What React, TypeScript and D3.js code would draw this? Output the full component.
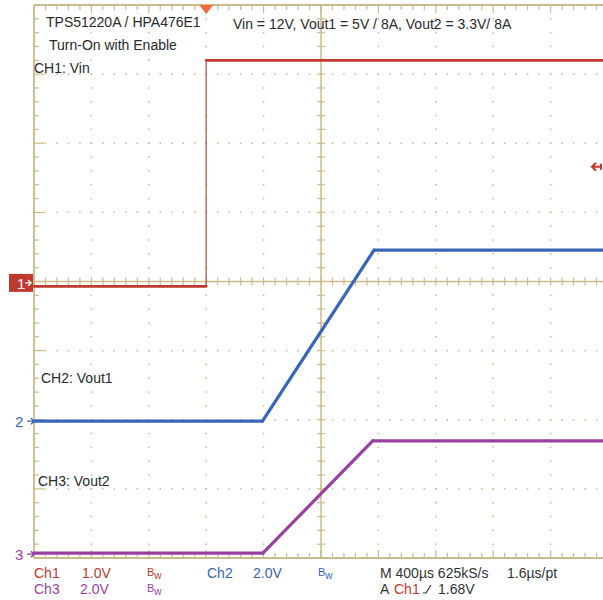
import React from 'react';
import * as d3 from 'd3';

// time in µs relative to the trigger, values in volts
const ch1Time = [-1200, 0, 0, 2800];
const ch1Volts = [-0.05, -0.05, 3.22, 3.22];
const ch2Time = [-1200, 392, 1170, 2800];
const ch2Volts = [0, 0, 4.95, 4.95];
const ch3Time = [-1200, 395, 1160, 2800];
const ch3Volts = [0, 0, 3.25, 3.25];

const channelNames = ['CH1: Vin', 'CH2: Vout1', 'CH3: Vout2'];
const voltsPerDiv = [1.0, 2.0, 2.0];
const offsetDiv = [-0.02, -2.02, -3.93];
const timePerDiv = 400;

const W = 603;
const H = 600;
const grid = '#c9bb8a';
const red = '#c0392e';
const blue = '#3765b9';
const purple = '#993f9f';
const font = "'Liberation Sans Narrow', 'Arial Narrow', 'Liberation Sans', sans-serif";

function App() {
  const left = 34, right = 608, top = 5, bottom = 558;
  const x = d3.scaleLinear().domain([-3 * timePerDiv, 7 * timePerDiv]).range([left, right]);
  const y = d3.scaleLinear().domain([-4, 4]).range([bottom, top]);
  const cx = x(2 * timePerDiv);
  const cy = y(0);
  const dx = (right - left) / 10;
  const dy = (bottom - top) / 8;

  const traces = [
    {t: ch1Time, v: ch1Volts, color: red, w: 2.8},
    {t: ch2Time, v: ch2Volts, color: blue, w: 3.2},
    {t: ch3Time, v: ch3Volts, color: purple, w: 3.2},
  ];

  const dots: JSX.Element[] = [];
  d3.range(1, 10).filter(i => i !== 5).forEach(i => {
    d3.range(0, 41).forEach(j => {
      dots.push(<rect key={`v${i}-${j}`} x={left + i * dx - 0.75} y={top + j * dy / 5 - 0.75} width={1.5} height={1.5} fill={grid}/>);
    });
  });
  d3.range(1, 8).filter(i => i !== 4).forEach(i => {
    d3.range(0, 51).forEach(j => {
      dots.push(<rect key={`h${i}-${j}`} x={left + j * dx / 5 - 0.75} y={top + i * dy - 0.75} width={1.5} height={1.5} fill={grid}/>);
    });
  });

  const ticks: JSX.Element[] = [];
  d3.range(0, 51).forEach(j => {
    const xx = left + j * dx / 5;
    const major = j % 5 === 0;
    ticks.push(<line key={`ct${j}`} x1={xx} x2={xx} y1={cy - 4} y2={cy + 4} stroke={grid} strokeWidth={1.2}/>);
    ticks.push(<line key={`tt${j}`} x1={xx} x2={xx} y1={top} y2={top + (major ? 8 : 5)} stroke={grid} strokeWidth={1.2}/>);
    ticks.push(<line key={`bt${j}`} x1={xx} x2={xx} y1={bottom} y2={bottom - (major ? 8 : 5)} stroke={grid} strokeWidth={1.2}/>);
  });
  d3.range(0, 41).forEach(j => {
    const yy = top + j * dy / 5;
    const major = j % 5 === 0;
    ticks.push(<line key={`cv${j}`} x1={cx - 4} x2={cx + 4} y1={yy} y2={yy} stroke={grid} strokeWidth={1.2}/>);
    ticks.push(<line key={`lv${j}`} x1={left} x2={left + (major ? 10 : 5)} y1={yy} y2={yy} stroke={grid} strokeWidth={1.2}/>);
  });

  const yv = (v: number, ch: number) => y(offsetDiv[ch] + v / voltsPerDiv[ch]);

  // segments: vertical edges drawn thin and lighter, like the scope's fast edge
  const segments = traces.flatMap((tr, ch) =>
    d3.pairs(d3.range(tr.t.length)).map(([a, b]) => {
      const vertical = tr.t[a] === tr.t[b];
      const d = d3.line<number>().x(i => x(tr.t[i])).y(i => yv(tr.v[i], ch))([a, b]) || '';
      return (
        <path key={`${ch}-${a}`} d={d} fill="none" stroke={tr.color}
              strokeOpacity={vertical ? 0.7 : 1}
              strokeWidth={vertical ? 1.6 : tr.w} strokeLinecap={vertical ? 'butt' : 'round'}/>
      );
    }));

  const bw = (xx: number, yy: number, color: string) => (
    <text x={xx} y={yy} fill={color} fontSize={11}>B<tspan fontSize={10} dy={3}>w</tspan></text>
  );

  const trigY = yv(1.68, 0);

  return (
    <svg width={W} height={H} style={{position: 'absolute', left: 0, top: 0, background: '#fff'}} fontFamily={font}>
      <rect x={0} y={0} width={W} height={H} fill="#fff"/>
      {dots}
      {ticks}
      <line x1={cx} x2={cx} y1={top} y2={bottom} stroke={grid} strokeWidth={1.5}/>
      <line x1={left} x2={right} y1={cy} y2={cy} stroke={grid} strokeWidth={1.5}/>
      <line x1={left} x2={right} y1={top} y2={top} stroke={grid} strokeWidth={1.8}/>
      <line x1={left} x2={right} y1={bottom} y2={bottom} stroke={grid} strokeWidth={1.8}/>
      <line x1={left} x2={left} y1={top} y2={bottom} stroke={grid} strokeWidth={1.8}/>

      {segments}

      {/* trigger position and level */}
      <path d={`M${x(0) - 7},${top} L${x(0) + 7},${top} L${x(0)},${top + 9} Z`} fill="#f26b3a"/>
      <path d={`M${right - 16},${trigY} h10 M${right - 12},${trigY - 4} l-4,4 l4,4 M${right - 7},${trigY - 3} v6`}
            stroke={red} strokeWidth={2} fill="none"/>

      {/* channel markers */}
      <rect x={9} y={yv(0, 0) - 9} width={24} height={18} fill={red}/>
      <text x={17} y={yv(0, 0) + 6} fill="#fff" fontSize={15}>1</text>
      <path d={`M25,${yv(0, 0)} h6 m-3,-3 l3,3 l-3,3`} stroke="#fff" strokeWidth={1.4} fill="none"/>
      <text x={15} y={yv(0, 1) + 6} fill={blue} fontSize={15}>2</text>
      <path d={`M27,${yv(0, 1)} h7 m-3,-3 l3,3 l-3,3`} stroke={blue} strokeWidth={1.4} fill="none"/>
      <text x={15} y={yv(0, 2) + 7} fill={purple} fontSize={15}>3</text>
      <path d={`M27,${yv(0, 2) + 1} h7 m-3,-3 l3,3 l-3,3`} stroke={purple} strokeWidth={1.4} fill="none"/>

      {/* annotations */}
      <g fill="#2a2a2a" fontSize={14}>
        <text x={46} y={27}>TPS51220A / HPA476E1</text>
        <text x={49} y={50}>Turn-On with Enable</text>
        <text x={34} y={73}>{channelNames[0]}</text>
        <text x={233} y={29}>Vin = 12V, Vout1 = 5V / 8A, Vout2 = 3.3V/ 8A</text>
        <text x={41} y={383}>{channelNames[1]}</text>
        <text x={38} y={486}>{channelNames[2]}</text>
      </g>

      {/* status bar */}
      <g fontSize={14}>
        <text x={34} y={578} fill={red}>Ch1</text>
        <text x={82} y={578} fill={red}>1.0V</text>
        {bw(147, 576, red)}
        <text x={207} y={578} fill={blue}>Ch2</text>
        <text x={253} y={578} fill={blue}>2.0V</text>
        {bw(318, 576, blue)}
        <text x={380} y={578} fill="#333">M 400µs 625kS/s</text>
        <text x={507} y={578} fill="#333">1.6µs/pt</text>
        <text x={34} y={594} fill={purple}>Ch3</text>
        <text x={80} y={594} fill={purple}>2.0V</text>
        {bw(147, 592, purple)}
        <text x={380} y={594} fill="#333">A</text>
        <text x={394} y={594} fill={red}>Ch1</text>
        <path d="M423,593 h3 l5,-8" stroke="#333" strokeWidth={1.2} fill="none"/>
        <text x={438} y={594} fill="#333">1.68V</text>
      </g>
    </svg>
  );
}

export default App;
